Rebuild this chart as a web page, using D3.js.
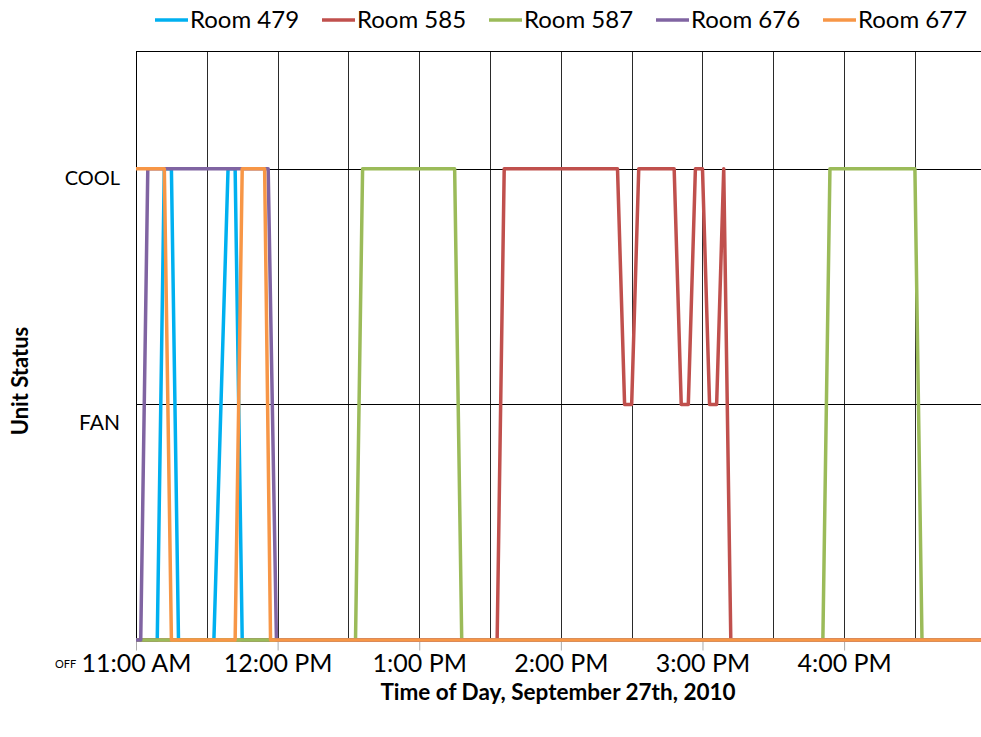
<!DOCTYPE html>
<html>
<head>
<meta charset="utf-8">
<title>Unit Status</title>
<script src="https://cdn.jsdelivr.net/npm/d3@7"></script>
<style>
  body { margin: 0; background: #fff; }
  text { font-family: Lato, "Open Sans", sans-serif; fill: #000; }
</style>
</head>
<body>
<script>
  // minutes after 11:00 AM, state: 0 = OFF, 1 = FAN, 2 = COOL
  var rooms = ["Room 479", "Room 585", "Room 587", "Room 676", "Room 677"];
  var colors = ["#00b0f0", "#c0504d", "#9bbb59", "#8064a2", "#f79646"];

  var room479 = [[0,0],[9,0],[12,2],[15,2],[18,0],[33,0],[39,2],[42,2],[45,0],[358,0]];
  var room585 = [[0,0],[153,0],[156,2],[204,2],[207,1],[210,1],[213,2],[228,2],[231,1],[234,1],
                 [237,2],[240,2],[243,1],[246,1],[249,2],[252,0],[358,0]];
  var room587 = [[0,0],[93,0],[96,2],[135,2],[138,0],[291,0],[294,2],[330,2],[333,0],[358,0]];
  var room676 = [[0,0],[2,0],[5,2],[56,2],[59.5,0],[358,0]];
  var room677 = [[0,2],[12,2],[15,0],[42,0],[45,2],[54.5,2],[57,0],[358,0]];

  var tickMinutes = [0, 60, 120, 180, 240, 300];
  var tickLabels = ["11:00 AM", "12:00 PM", "1:00 PM", "2:00 PM", "3:00 PM", "4:00 PM"];
  var gridMinutes = [30, 60, 90, 120, 150, 180, 210, 240, 270, 300, 330];
  var stateLevels = [0, 1, 2];

  var series = [room479, room585, room587, room676, room677];

  var width = 981, height = 737;
  var margin = { top: 51, right: 0, bottom: 97, left: 136 };

  var svg = d3.select("body").append("svg")
    .attr("width", width).attr("height", height);

  var x = d3.scaleLinear().domain([0, 358]).range([margin.left, width - margin.right]);
  var y = d3.scaleLinear().domain([0, 2.5]).range([height - margin.bottom, margin.top]);

  // gridlines
  svg.append("g").selectAll("line.v")
    .data(gridMinutes).enter().append("line")
    .attr("x1", function(d) { return Math.round(x(d)) + 0.5; })
    .attr("x2", function(d) { return Math.round(x(d)) + 0.5; })
    .attr("y1", y(2.5)).attr("y2", y(0))
    .attr("stroke", "#2a2a2a").attr("stroke-width", 1);

  svg.append("g").selectAll("line.h")
    .data(stateLevels.concat([2.5])).enter().append("line")
    .attr("x1", x(0)).attr("x2", width)
    .attr("y1", function(d) { return Math.round(y(d)) + 0.5; })
    .attr("y2", function(d) { return Math.round(y(d)) + 0.5; })
    .attr("stroke", function(d) { return d === 0 ? "#999" : "#000"; })
    .attr("stroke-width", 1);

  // x axis ticks + labels
  var xAxis = d3.axisBottom(x)
    .tickValues(tickMinutes)
    .tickSize(10)
    .tickPadding(4)
    .tickFormat(function(d, i) { return tickLabels[i]; });

  var gx = svg.append("g")
    .attr("transform", "translate(0," + (Math.round(y(0)) + 0.5) + ")")
    .call(xAxis);
  gx.select(".domain").remove();
  gx.selectAll(".tick line").attr("stroke", "#aaa");
  gx.selectAll(".tick text")
    .attr("font-family", "Lato").attr("font-size", "25px").attr("fill", "#000");

  // y axis line
  svg.append("line")
    .attr("x1", Math.round(x(0)) + 0.5).attr("x2", Math.round(x(0)) + 0.5)
    .attr("y1", y(2.5)).attr("y2", y(0))
    .attr("stroke", "#000");

  // state labels
  svg.append("text").attr("x", 120).attr("y", 185)
    .attr("text-anchor", "end").attr("font-size", "20px").text("COOL");
  svg.append("text").attr("x", 120).attr("y", 430)
    .attr("text-anchor", "end").attr("font-size", "21px").text("FAN");
  svg.append("text").attr("x", 55).attr("y", 668)
    .attr("font-size", "11px").text("OFF");

  // lines
  var line = d3.line()
    .x(function(d) { return x(d[0]); })
    .y(function(d) { return y(d[1]); });

  svg.append("g").selectAll("path")
    .data(series).enter().append("path")
    .attr("d", line)
    .attr("fill", "none")
    .attr("stroke", function(d, i) { return colors[i]; })
    .attr("stroke-width", 3.5)
    .attr("stroke-linejoin", "round");

  // axis titles
  svg.append("text")
    .attr("transform", "translate(28,381) rotate(-90)")
    .attr("text-anchor", "middle")
    .attr("font-size", "22px").attr("font-weight", "bold")
    .text("Unit Status");

  svg.append("text")
    .attr("x", 558).attr("y", 700)
    .attr("text-anchor", "middle")
    .attr("font-size", "22.5px").attr("font-weight", "bold")
    .text("Time of Day, September 27th, 2010");

  // legend
  var legend = svg.append("g").selectAll("g")
    .data(rooms).enter().append("g")
    .attr("transform", function(d, i) { return "translate(" + (155 + i * 167) + ",20)"; });
  legend.append("line")
    .attr("x1", 0).attr("x2", 33).attr("y1", 0).attr("y2", 0)
    .attr("stroke", function(d, i) { return colors[i]; })
    .attr("stroke-width", 3.5);
  legend.append("text")
    .attr("x", 35).attr("y", 8)
    .attr("font-size", "24px")
    .text(function(d) { return d; });
</script>
</body>
</html>
